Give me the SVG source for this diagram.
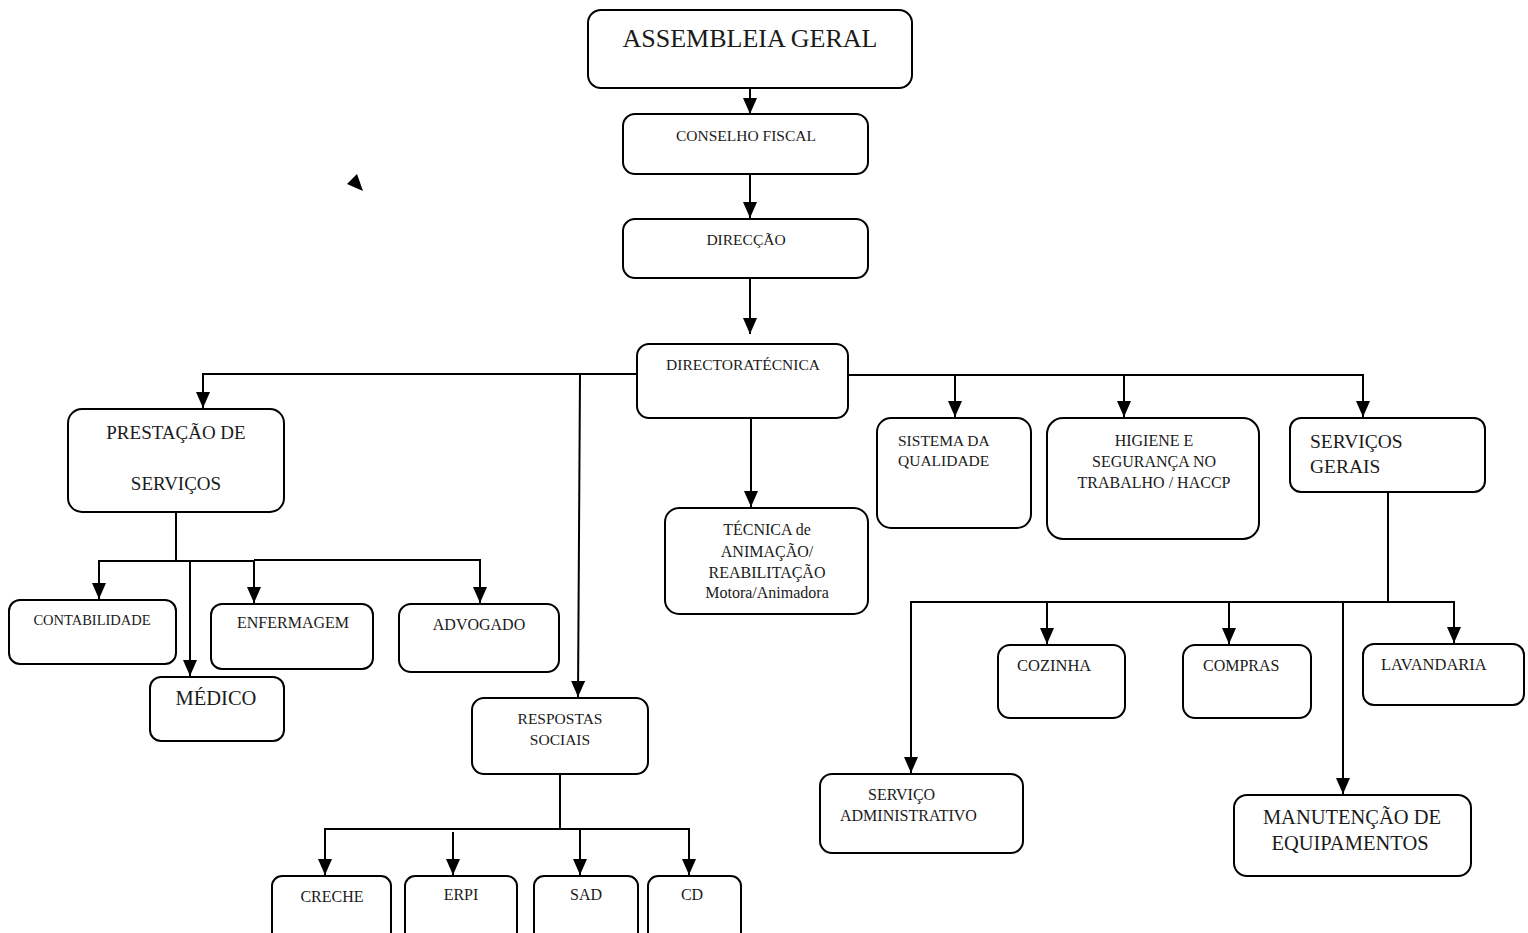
<svg xmlns="http://www.w3.org/2000/svg" width="1528" height="933" viewBox="0 0 1528 933">
<style>
.box{fill:#fff;stroke:#000;stroke-width:2}
.t{font-family:"Liberation Serif","Times New Roman",serif;fill:#1a1a1a}
.c{text-anchor:middle}
.con{fill:none;stroke:#000;stroke-width:2}
</style>
<defs>
<marker id="ah" viewBox="0 0 16 14" refX="16" refY="7" markerWidth="16" markerHeight="14" markerUnits="userSpaceOnUse" orient="auto">
<path d="M0,0 L16,7 L0,14 z" fill="#000"/>
</marker>
</defs>
<rect width="1528" height="933" fill="#fff"/>
<g id="connectors">
<path class="con" d="M750,88 V114" marker-end="url(#ah)"/>
<path class="con" d="M750,174 V218" marker-end="url(#ah)"/>
<path class="con" d="M750,278 V334" marker-end="url(#ah)"/>
<path class="con" d="M637,374 H203 V408" marker-end="url(#ah)"/>
<path class="con" d="M580,374 L578,697" marker-end="url(#ah)"/>
<path class="con" d="M751,418 V507" marker-end="url(#ah)"/>
<path class="con" d="M848,375 H1363 V417" marker-end="url(#ah)"/>
<path class="con" d="M955,375 V417" marker-end="url(#ah)"/>
<path class="con" d="M1124,375 V417" marker-end="url(#ah)"/>
<path class="con" d="M176,512 V561"/>
<path class="con" d="M176,561 H99 V599" marker-end="url(#ah)"/>
<path class="con" d="M190,561 V676" marker-end="url(#ah)"/>
<path class="con" d="M176,561 H254 V603" marker-end="url(#ah)"/>
<path class="con" d="M254,560 H480 V603" marker-end="url(#ah)"/>
<path class="con" d="M560,774 V829"/>
<path class="con" d="M560,829 H325 V875" marker-end="url(#ah)"/>
<path class="con" d="M453,832 V875" marker-end="url(#ah)"/>
<path class="con" d="M560,829 H689 V875" marker-end="url(#ah)"/>
<path class="con" d="M580,829 V875" marker-end="url(#ah)"/>
<path class="con" d="M1388,492 V602"/>
<path class="con" d="M1388,602 H911 V773" marker-end="url(#ah)"/>
<path class="con" d="M1388,602 H1454 V643" marker-end="url(#ah)"/>
<path class="con" d="M1047,602 V644" marker-end="url(#ah)"/>
<path class="con" d="M1229,602 V644" marker-end="url(#ah)"/>
<path class="con" d="M1343,602 V794" marker-end="url(#ah)"/>
</g>
<polygon points="347,184 357,174 363,191" fill="#000"/>
<g id="assembleia"><rect class="box" x="588" y="10" width="324" height="78" rx="13"/><text class="t c" x="750" y="47" font-size="26">ASSEMBLEIA GERAL</text></g>
<g id="conselho"><rect class="box" x="623" y="114" width="245" height="60" rx="12"/><text class="t c" x="746" y="141" font-size="15.5">CONSELHO FISCAL</text></g>
<g id="direccao"><rect class="box" x="623" y="219" width="245" height="59" rx="12"/><text class="t c" x="746" y="245" font-size="15.5">DIRECÇÃO</text></g>
<g id="directora"><rect class="box" x="637" y="344" width="211" height="74" rx="12"/><text class="t c" x="743" y="370" font-size="15.5">DIRECTORATÉCNICA</text></g>
<g id="tecnica"><rect class="box" x="665" y="508" width="203" height="106" rx="14"/>
<text class="t c" x="767" y="535" font-size="16">TÉCNICA de</text>
<text class="t c" x="767" y="557" font-size="16">ANIMAÇÃO/</text>
<text class="t c" x="767" y="578" font-size="16">REABILITAÇÃO</text>
<text class="t c" x="767" y="598" font-size="16">Motora/Animadora</text></g>
<g id="prestacao"><rect class="box" x="68" y="409" width="216" height="103" rx="14"/>
<text class="t c" x="176" y="439" font-size="19">PRESTAÇÃO DE</text>
<text class="t c" x="176" y="490" font-size="19">SERVIÇOS</text></g>
<g id="contabilidade"><rect class="box" x="9" y="600" width="167" height="64" rx="11"/><text class="t c" x="92" y="625" font-size="14.5">CONTABILIDADE</text></g>
<g id="enfermagem"><rect class="box" x="211" y="604" width="162" height="65" rx="11"/><text class="t c" x="293" y="628" font-size="16">ENFERMAGEM</text></g>
<g id="advogado"><rect class="box" x="399" y="604" width="160" height="68" rx="12"/><text class="t c" x="479" y="630" font-size="16">ADVOGADO</text></g>
<g id="medico"><rect class="box" x="150" y="677" width="134" height="64" rx="11"/><text class="t c" x="216" y="705" font-size="20.5">MÉDICO</text></g>
<g id="respostas"><rect class="box" x="472" y="698" width="176" height="76" rx="12"/>
<text class="t c" x="560" y="724" font-size="15.5">RESPOSTAS</text>
<text class="t c" x="560" y="745" font-size="15.5">SOCIAIS</text></g>
<g id="creche"><rect class="box" x="272" y="876" width="119" height="70" rx="10"/><text class="t c" x="332" y="902" font-size="16">CRECHE</text></g>
<g id="erpi"><rect class="box" x="405" y="876" width="112" height="70" rx="10"/><text class="t c" x="461" y="900" font-size="16">ERPI</text></g>
<g id="sad"><rect class="box" x="534" y="876" width="104" height="70" rx="10"/><text class="t c" x="586" y="900" font-size="16">SAD</text></g>
<g id="cd"><rect class="box" x="648" y="876" width="93" height="70" rx="10"/><text class="t c" x="692" y="900" font-size="16">CD</text></g>
<g id="sistema"><rect class="box" x="877" y="418" width="154" height="110" rx="14"/>
<text class="t" x="898" y="446" font-size="15.5">SISTEMA DA</text>
<text class="t" x="898" y="466" font-size="15.5">QUALIDADE</text></g>
<g id="higiene"><rect class="box" x="1047" y="418" width="212" height="121" rx="16"/>
<text class="t c" x="1154" y="446" font-size="16">HIGIENE E</text>
<text class="t c" x="1154" y="467" font-size="16">SEGURANÇA NO</text>
<text class="t c" x="1154" y="488" font-size="16">TRABALHO / HACCP</text></g>
<g id="servicos-gerais"><rect class="box" x="1290" y="418" width="195" height="74" rx="11"/>
<text class="t" x="1310" y="448" font-size="19.5">SERVIÇOS</text>
<text class="t" x="1310" y="473" font-size="19.5">GERAIS</text></g>
<g id="cozinha"><rect class="box" x="998" y="645" width="127" height="73" rx="12"/><text class="t" x="1017" y="671" font-size="16.5">COZINHA</text></g>
<g id="compras"><rect class="box" x="1183" y="645" width="128" height="73" rx="12"/><text class="t" x="1203" y="671" font-size="16">COMPRAS</text></g>
<g id="lavandaria"><rect class="box" x="1363" y="644" width="161" height="61" rx="11"/><text class="t" x="1381" y="670" font-size="16.5">LAVANDARIA</text></g>
<g id="servico-admin"><rect class="box" x="820" y="774" width="203" height="79" rx="12"/>
<text class="t" x="868" y="800" font-size="16">SERVIÇO</text>
<text class="t" x="840" y="821" font-size="16">ADMINISTRATIVO</text></g>
<g id="manutencao"><rect class="box" x="1234" y="795" width="237" height="81" rx="13"/>
<text class="t c" x="1352" y="824" font-size="20.5">MANUTENÇÃO DE</text>
<text class="t c" x="1350" y="850" font-size="20.5">EQUIPAMENTOS</text></g>
</svg>
